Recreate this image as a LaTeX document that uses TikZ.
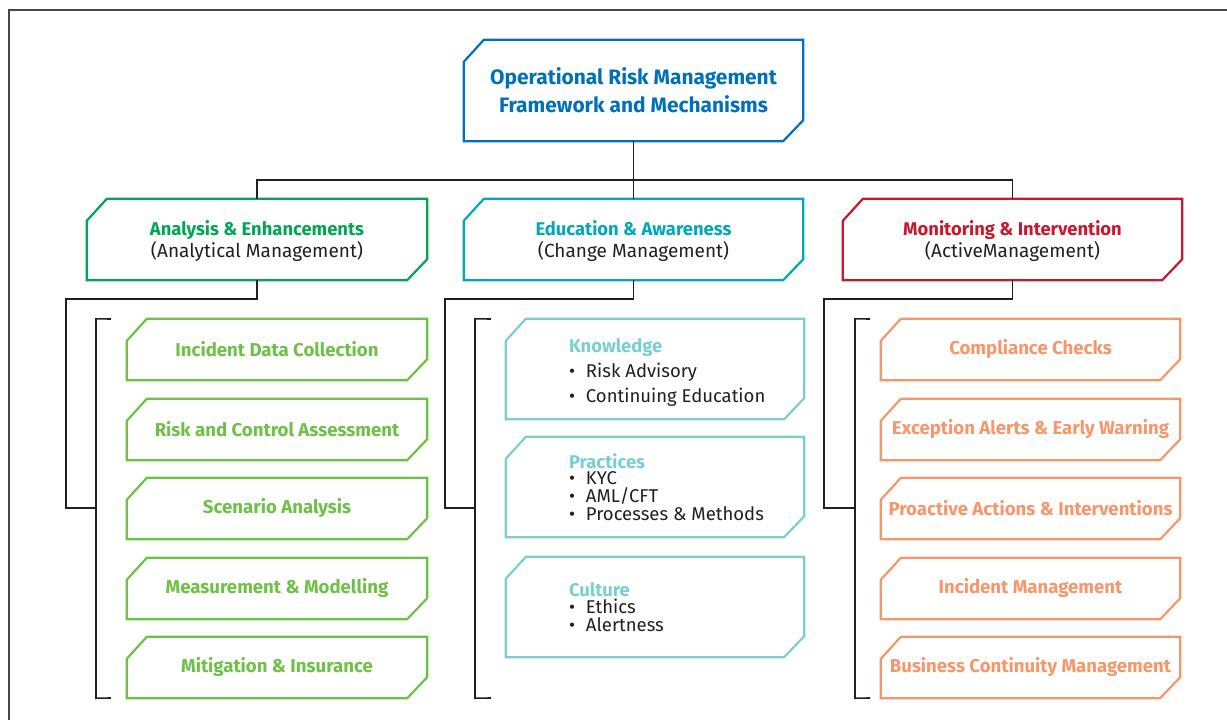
\documentclass[tikz,border=0pt]{standalone}
\usepackage{fontspec}
\setmainfont{Fira Sans}
\usetikzlibrary{calc}

\definecolor{ormblue}{RGB}{0,112,186}
\definecolor{aegreen}{RGB}{0,166,81}
\definecolor{leafgreen}{RGB}{110,192,70}
\definecolor{eateal}{RGB}{0,168,184}
\definecolor{paleteal}{RGB}{122,206,210}
\definecolor{mired}{RGB}{204,22,44}
\definecolor{peach}{RGB}{247,150,106}
\definecolor{ink}{RGB}{35,31,32}
\definecolor{framegray}{RGB}{70,70,70}

\tikzset{
  holder/.style 2 args={minimum width=#1pt, minimum height=#2pt, inner sep=0pt, align=center, text=ink},
  outline/.style={line width=2.2pt, line join=miter},
  conn/.style={draw=ink, line width=1.6pt},
  headfont/.style={font=\fontsize{20.9}{28}\selectfont\bfseries},
  pillarfont/.style={font=\fontsize{19}{23.5}\selectfont},
  itemfont/.style={font=\fontsize{18.6}{22}\selectfont\bfseries},
  listfont/.style={font=\fontsize{18.5}{18.2}\selectfont},
}

% chamfered outline around a named node: top-left and bottom-right corners cut
\newcommand\chamf[2]{%
  \draw[outline,#2] ([yshift=-22pt]#1.north west) -- ([xshift=20pt]#1.north west)
    -- (#1.north east) -- ([yshift=21pt]#1.south east)
    -- ([xshift=-20pt]#1.south east) -- (#1.south west) -- cycle;}
\newcommand\bul{\makebox[17pt][l]{•}}
% list block set 63pt in from the left edge of a 298pt wide box, with #1 of room on top
\newcommand\listblock[2][0pt]{\makebox[298pt][l]{\hspace*{63pt}%
  \begin{minipage}[c]{232pt}\raggedright\vspace*{#1}#2\end{minipage}}}
\newcommand\listhead[1]{\textbf{\color{paleteal}\fontsize{18.4}{18.2}\selectfont #1}}
% two-line pillar caption, with a little room on top
\newcommand\pillar[3]{\begin{tabular}{@{}c@{}}%
  \rule{0pt}{21pt}\textbf{\color{#1}\fontsize{18.4}{23.5}\selectfont #2}\\[-1pt] #3\end{tabular}}

\begin{document}
\begin{tikzpicture}[x=1pt,y=-1pt]
\useasboundingbox (0,0) rectangle (1227,720);
\draw[draw=framegray, line width=1.5pt] (9,720) -- (9,10) -- (1227,10);

% root
\node[holder={339}{101}, headfont, text=ormblue] (root) at (633.5,90.5)
  {Operational Risk Management\\Framework and Mechanisms};

% three pillars
\node[holder={340}{81}, pillarfont] (ae) at (257,239.5)
  {\pillar{aegreen}{Analysis \& Enhancements}{(Analytical Management)}};
\node[holder={339}{81}, pillarfont] (ea) at (633.5,239.5)
  {\pillar{eateal}{Education \& Awareness}{(Change Management)}};
\node[holder={339}{81}, pillarfont] (mi) at (1012.5,239.5)
  {\pillar{mired}{Monitoring \& Intervention}{(ActiveManagement)}};

% analysis items
\foreach \n/\y/\t in {g1/349.5/Incident Data Collection,
                      g2/429.5/Risk and Control Assessment,
                      g3/508.5/Scenario Analysis,
                      g4/588.5/Measurement \& Modelling,
                      g5/667.5/Mitigation \& Insurance}
  \node[holder={300}{61}, itemfont, text=leafgreen] (\n) at (277,\y) {\t};

% monitoring items
\foreach \n/\y/\t in {o1/349.5/Compliance Checks,
                      o2/429.5/Exception Alerts \& Early Warning,
                      o3/508.5/Proactive Actions \& Interventions,
                      o4/588.5/Incident Management,
                      o5/667.5/Business Continuity Management}
  \node[holder={299}{61}, itemfont, text=peach] (\n) at (1030.5,\y) {\t};

% education items
\node[holder={298}{100}, listfont] (c1) at (655,369)
  {\listblock[7pt]{\listhead{Knowledge}\\[5.8pt]\bul Risk Advisory\\[5.8pt]\bul Continuing Education}};
\node[holder={298}{100}, listfont] (c2) at (655,487)
  {\listblock{\listhead{Practices}\\[-2pt]\bul KYC\\\bul AML/CFT\\\bul Processes \& Methods}};
\node[holder={298}{100}, listfont] (c3) at (655,607)
  {\listblock{\listhead{Culture}\\[-1pt]\bul Ethics\\[-1pt]\bul Alertness}};

% outlines
\chamf{root}{draw=ormblue}
\chamf{ae}{draw=aegreen}
\chamf{ea}{draw=eateal}
\chamf{mi}{draw=mired}
\foreach \n in {g1,g2,g3,g4,g5} {\chamf{\n}{draw=leafgreen}}
\foreach \n in {o1,o2,o3,o4,o5} {\chamf{\n}{draw=peach}}
\foreach \n in {c1,c2,c3} {\chamf{\n}{draw=paleteal}}

% root to pillars
\draw[conn] (root) -- (ea);
\draw[conn] (ae.north) -- ++(0,-19) -| (mi.north);

% bracket junctions
\coordinate (gj) at (96,508);
\coordinate (cj) at (475,508);
\coordinate (oj) at (855,508);

% pillars to their item brackets
\draw[conn] (ae.south) -- ++(0,19) -| (66,508) -- (gj);
\draw[conn] (ea.south) -- ++(0,19) -| (445,508) -- (cj);
\draw[conn] (mi.south) -- ++(0,19) -| (824,508) -- (oj);

% brackets
\draw[conn] (111,319) -- (gj |- g1.north) -- (gj |- g5.south) -- (111,698);
\draw[conn] (491,319) -- (cj |- c1.north) -- (cj |- g5.south) -- (491,698);
\draw[conn] (870,319) -- (oj |- o1.north) -- (oj |- o5.south) -- (870,698);
\end{tikzpicture}
\end{document}
